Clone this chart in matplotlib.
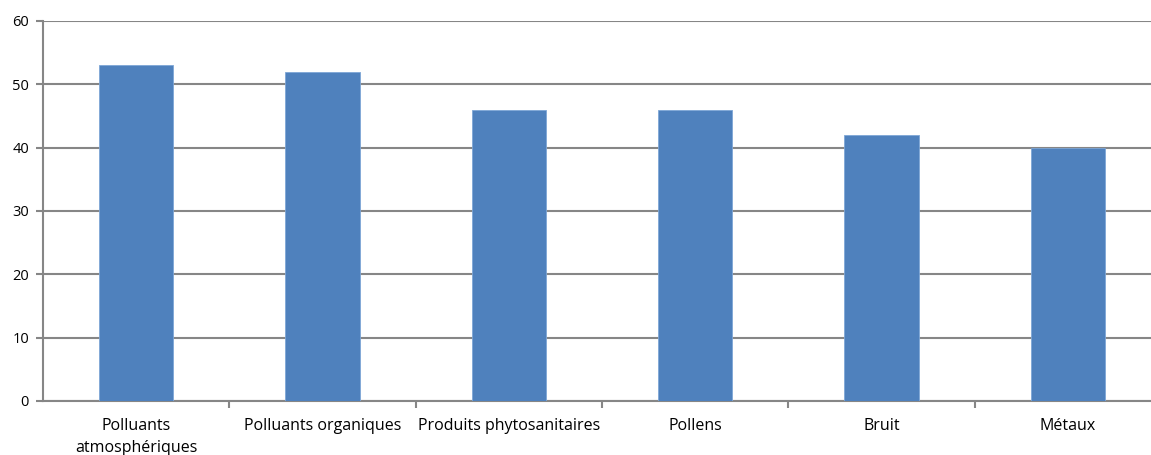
import numpy as np
import matplotlib.pyplot as plt

categories = ["Polluants\natmosphériques", "Polluants organiques", "Produits phytosanitaires",
              "Pollens", "Bruit", "Métaux"]
values = [53, 52, 46, 46, 42, 40]
yticks = [0, 10, 20, 30, 40, 50, 60]

plt.rcParams['font.family'] = ['Open Sans', 'DejaVu Sans']

fig = plt.figure(figsize=(11.51, 4.55), dpi=100)
# plot area runs slightly past the right edge of the image, as in the original
ax = fig.add_axes([43 / 1151, 1 - 401 / 455, 1118 / 1151, 380 / 455])

x = np.arange(len(categories))
ax.bar(x, values, width=0.4, color='#4f81bd', edgecolor='#7ea6d6', linewidth=0.6, zorder=3)

ax.set_xlim(-0.5, len(categories) - 0.5)
ax.set_ylim(0, 60)
ax.set_yticks(yticks)
ax.set_xticks(x)
ax.set_xticklabels(categories, fontsize=11.5, linespacing=1.5)
ax.set_xticks(np.arange(len(categories)) + 0.5, minor=True)
ax.tick_params(axis='x', which='major', length=0, pad=12)
ax.tick_params(axis='x', which='minor', length=5, width=1.5, color='#868686')
ax.tick_params(axis='y', length=5, width=1.5, color='#868686', labelsize=10.5, pad=5)

ax.yaxis.grid(True, color='#868686', linewidth=1.5, zorder=0)
ax.set_axisbelow(True)
for s in ['top', 'right']:
    ax.spines[s].set_visible(False)
for s in ['left', 'bottom']:
    ax.spines[s].set_color('#868686')
    ax.spines[s].set_linewidth(1.5)

fig.savefig('out.png', dpi=100)
